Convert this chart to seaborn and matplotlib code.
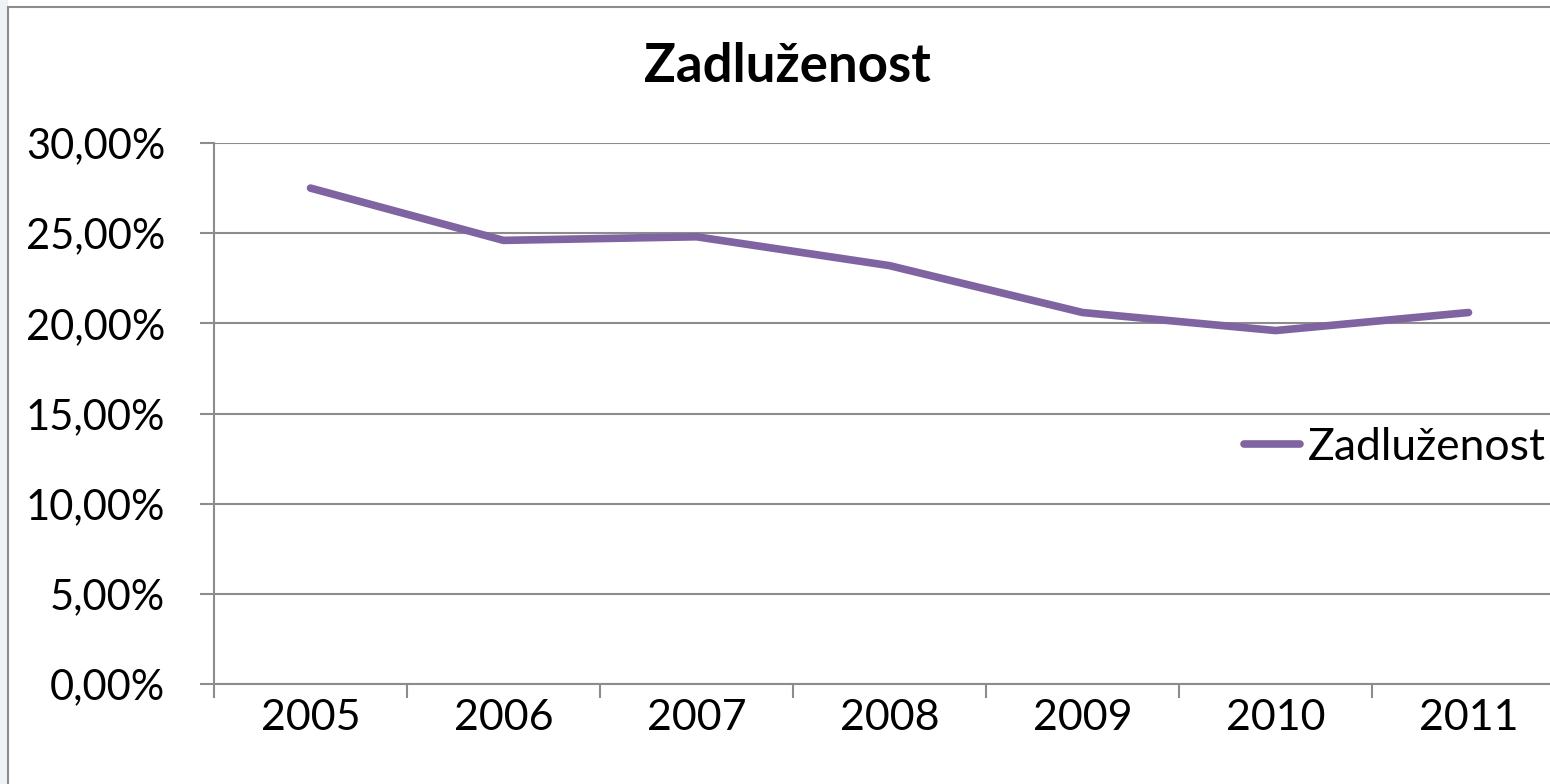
import numpy as np
import pandas as pd
import matplotlib
matplotlib.use('Agg')
import matplotlib.pyplot as plt
import seaborn as sns
from matplotlib.patches import Rectangle
from matplotlib.ticker import FuncFormatter

# data
years = ['2005', '2006', '2007', '2008', '2009', '2010', '2011']
zadluzenost = [27.5, 24.6, 24.8, 23.2, 20.6, 19.6, 20.6]
y_ticks = [0, 5, 10, 15, 20, 25, 30]

df = pd.DataFrame({'pos': np.arange(len(years)), 'Zadluženost': zadluzenost})

sns.set_style('white')
plt.rcParams['font.family'] = ['Lato', 'DejaVu Sans']
plt.rcParams['text.color'] = 'black'
plt.rcParams['xtick.color'] = 'black'
plt.rcParams['ytick.color'] = 'black'

fig = plt.figure(figsize=(15.5, 7.84), dpi=100)
fig.patch.set_facecolor('white')

# light strip at far left and chart frame
fig.patches.append(Rectangle((0, 0), 8 / 1550, 1, transform=fig.transFigure,
                             facecolor='#eef2f7', edgecolor='none', zorder=0))
fig.patches.append(Rectangle((8 / 1550, -0.2), 1.2, 1.2 - 7 / 784, transform=fig.transFigure,
                             facecolor='none', edgecolor='#8c8c8c', linewidth=1.5, zorder=5))

ax = fig.add_axes([214 / 1550, 1 - 684 / 784, 1351 / 1550, 541 / 784])
sns.lineplot(data=df, x='pos', y='Zadluženost', ax=ax, color='#8064A2', linewidth=5.5,
             solid_capstyle='round', solid_joinstyle='round', label='Zadluženost', clip_on=False)

ax.set_xlim(-0.5, len(years) - 0.5)
ax.set_ylim(0, 30)
ax.set_yticks(y_ticks)
ax.yaxis.set_major_formatter(FuncFormatter(lambda v, p: f'{v:.2f}%'.replace('.', ',')))
ax.set_xticks(np.arange(len(years)))
ax.set_xticklabels(years)
ax.set_xticks(np.arange(len(years) + 1) - 0.5, minor=True)
ax.tick_params(axis='x', which='major', bottom=True, length=0, pad=11, labelsize=31)
ax.tick_params(axis='x', which='minor', bottom=True, length=10, width=1.5, color='#8c8c8c', direction='out')
ax.tick_params(axis='y', left=True, length=10, width=1.5, color='#8c8c8c', direction='out',
               pad=25, labelsize=30)
ax.grid(axis='y', color='#8c8c8c', linewidth=1.5)
ax.set_axisbelow(True)
for s in ['top', 'right']:
    ax.spines[s].set_visible(False)
for s in ['left', 'bottom']:
    ax.spines[s].set_color('#8c8c8c')
    ax.spines[s].set_linewidth(1.5)
ax.set_xlabel('')
ax.set_ylabel('')

fig.text(0.508, 1 - 66 / 784, 'Zadluženost', ha='center', va='center', fontsize=38, fontweight='bold')

ax.legend(loc='center left', bbox_to_anchor=(1244 / 1550, 1 - 447 / 784), bbox_transform=fig.transFigure,
          frameon=False, fontsize=32, handlelength=1.25, handletextpad=0.18, borderaxespad=0, borderpad=0)

fig.savefig('out.png', dpi=100)
